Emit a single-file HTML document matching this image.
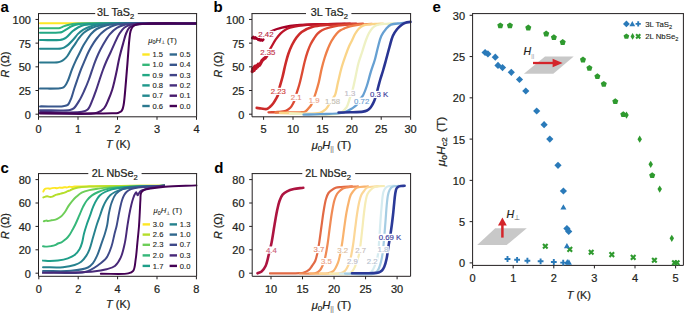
<!DOCTYPE html>
<html><head><meta charset="utf-8"><style>
html,body{margin:0;padding:0;background:#fff;overflow:hidden;}
svg{display:block;}
text{font-family:"Liberation Sans", sans-serif;}
text[fill="#231f20"]{stroke:#231f20;stroke-width:0.22px;}
text.s{stroke:#231f20;stroke-width:0.12px;}
</style></head><body>
<svg width="685" height="313" viewBox="0 0 685 313">
<rect width="685" height="313" fill="#fff"/>
<path d="M40.00 23.30 C66.67 23.30 93.68 23.28 120.00 23.30 C145.66 23.32 170.67 23.37 196.00 23.40" fill="none" stroke="#fde725" stroke-width="2.05" stroke-linecap="round" stroke-linejoin="round" />
<path d="M40.00 28.30 C45.67 28.27 53.65 28.38 57.00 28.20 C58.41 28.13 58.97 28.16 60.00 27.90 C61.17 27.61 62.33 26.88 63.60 26.40 C64.98 25.88 66.51 25.32 68.00 24.90 C69.48 24.48 70.80 24.13 72.50 23.90 C74.67 23.60 76.01 23.61 80.00 23.50 C95.68 23.08 157.33 23.43 196.00 23.40" fill="none" stroke="#35b779" stroke-width="2.05" stroke-linecap="round" stroke-linejoin="round" />
<path d="M40.00 32.80 C46.33 32.73 55.41 32.97 59.00 32.60 C60.44 32.45 60.89 32.42 62.00 32.00 C63.58 31.39 65.79 29.79 67.40 28.80 C68.73 27.98 69.73 27.13 71.00 26.50 C72.27 25.87 73.46 25.42 75.00 25.00 C76.99 24.46 79.45 24.06 82.00 23.80 C85.03 23.50 86.91 23.58 92.00 23.50 C108.41 23.25 161.33 23.43 196.00 23.40" fill="none" stroke="#22a884" stroke-width="2.05" stroke-linecap="round" stroke-linejoin="round" />
<path d="M40.00 40.10 C46.67 40.03 56.29 40.29 60.00 39.90 C61.45 39.75 62.02 39.64 63.00 39.30 C64.05 38.93 64.96 38.54 66.10 37.70 C67.94 36.35 70.37 33.08 72.50 31.30 C74.33 29.77 76.07 28.55 78.00 27.50 C79.90 26.46 81.81 25.58 84.00 25.00 C86.44 24.35 89.18 24.23 92.00 24.00 C95.14 23.74 96.97 23.71 102.00 23.60 C117.41 23.28 164.67 23.47 196.00 23.40" fill="none" stroke="#1f988b" stroke-width="2.05" stroke-linecap="round" stroke-linejoin="round" />
<path d="M40.00 48.70 C47.00 48.63 57.18 49.08 61.00 48.50 C62.47 48.28 63.00 48.06 64.00 47.60 C65.14 47.08 66.15 46.41 67.40 45.40 C69.27 43.89 71.93 41.06 73.80 39.00 C75.39 37.24 76.46 35.44 78.00 33.90 C79.53 32.38 81.05 31.01 83.00 29.80 C85.28 28.39 88.36 27.08 91.00 26.20 C93.42 25.40 95.40 25.01 98.20 24.60 C102.04 24.04 105.45 23.84 112.00 23.60 C128.15 23.00 168.00 23.47 196.00 23.40" fill="none" stroke="#23888e" stroke-width="2.05" stroke-linecap="round" stroke-linejoin="round" />
<path d="M40.00 62.50 C46.00 62.40 54.54 62.68 58.00 62.20 C59.44 62.00 60.03 61.82 61.00 61.40 C62.04 60.95 63.02 60.30 64.00 59.50 C65.15 58.56 66.33 57.40 67.40 56.00 C68.69 54.33 69.74 51.97 71.00 50.00 C72.27 48.01 73.72 46.02 75.00 44.10 C76.21 42.29 77.14 40.57 78.50 38.80 C80.03 36.81 81.76 34.53 83.80 32.80 C85.91 31.02 88.31 29.53 91.00 28.30 C93.98 26.93 97.35 25.95 101.00 25.20 C105.24 24.33 108.39 24.07 115.00 23.70 C130.84 22.82 169.00 23.50 196.00 23.40" fill="none" stroke="#2a788e" stroke-width="2.05" stroke-linecap="round" stroke-linejoin="round" />
<path d="M40.00 88.60 C46.67 88.50 56.09 88.83 60.00 88.30 C61.66 88.08 62.51 88.01 63.50 87.40 C64.52 86.77 65.26 85.63 66.00 84.50 C66.85 83.21 67.42 81.84 68.20 80.00 C69.37 77.24 70.67 72.77 72.00 69.40 C73.24 66.26 74.57 63.26 75.90 60.40 C77.14 57.74 78.42 55.34 79.70 52.80 C80.99 50.24 82.31 47.38 83.60 45.10 C84.68 43.20 85.64 41.75 86.80 40.00 C88.08 38.07 89.37 35.82 91.00 34.00 C92.66 32.15 94.38 30.38 96.70 29.00 C99.47 27.36 103.15 26.18 106.80 25.30 C110.85 24.33 113.77 24.09 120.00 23.70 C134.89 22.77 170.67 23.50 196.00 23.40" fill="none" stroke="#31688e" stroke-width="2.05" stroke-linecap="round" stroke-linejoin="round" />
<path d="M40.00 106.40 C47.67 106.33 58.22 106.86 63.00 106.20 C65.22 105.89 66.49 105.97 67.80 104.90 C69.46 103.55 70.35 100.37 71.40 97.80 C72.56 94.95 73.31 91.52 74.30 88.50 C75.25 85.60 76.16 82.99 77.20 80.00 C78.37 76.66 79.69 72.77 81.00 69.40 C82.22 66.26 83.51 63.39 84.80 60.40 C86.08 57.42 87.23 54.43 88.70 51.50 C90.22 48.49 92.17 45.12 93.80 42.60 C95.08 40.63 96.25 39.07 97.50 37.50 C98.65 36.06 99.62 34.83 101.00 33.50 C102.63 31.93 104.57 30.16 106.80 28.80 C109.30 27.27 112.19 25.85 115.40 25.00 C119.13 24.01 122.12 24.02 128.00 23.70 C141.63 22.97 173.33 23.50 196.00 23.40" fill="none" stroke="#39568c" stroke-width="2.05" stroke-linecap="round" stroke-linejoin="round" />
<path d="M40.00 110.20 C50.00 110.13 64.86 111.08 70.00 110.00 C71.89 109.60 72.47 109.40 73.70 108.40 C75.64 106.82 77.77 103.10 79.50 100.20 C81.27 97.24 82.70 94.07 84.20 90.80 C85.78 87.35 87.38 83.49 88.70 80.00 C89.91 76.80 90.83 73.77 91.90 70.70 C92.96 67.67 93.98 64.62 95.10 61.70 C96.18 58.89 97.26 56.16 98.50 53.50 C99.73 50.87 100.91 48.59 102.50 45.80 C104.49 42.31 107.06 37.44 109.70 34.30 C111.93 31.64 114.36 29.40 116.90 27.80 C119.16 26.38 121.27 25.58 124.00 24.90 C127.43 24.05 130.46 23.99 136.00 23.70 C148.35 23.05 176.00 23.50 196.00 23.40" fill="none" stroke="#414487" stroke-width="2.05" stroke-linecap="round" stroke-linejoin="round" />
<path d="M40.00 111.90 C54.00 111.87 74.53 113.26 82.00 111.80 C84.86 111.24 86.10 110.97 87.70 109.50 C89.78 107.59 91.02 103.35 92.40 100.20 C93.75 97.11 94.75 94.05 95.90 90.80 C97.12 87.34 98.31 83.53 99.50 80.00 C100.64 76.60 101.71 73.23 102.90 70.00 C104.04 66.91 105.22 63.94 106.50 61.00 C107.76 58.11 109.18 55.37 110.50 52.50 C111.85 49.57 113.06 46.65 114.50 43.60 C116.05 40.33 117.65 36.34 119.50 33.50 C121.04 31.14 122.50 29.01 124.50 27.50 C126.45 26.03 128.84 25.14 131.30 24.50 C133.97 23.81 135.83 23.90 140.00 23.70 C150.55 23.19 177.33 23.50 196.00 23.40" fill="none" stroke="#472f7d" stroke-width="2.05" stroke-linecap="round" stroke-linejoin="round" />
<path d="M40.00 112.90 C59.00 112.87 87.32 115.60 97.00 112.80 C100.69 111.73 102.11 110.48 104.00 108.40 C106.13 106.05 107.32 102.16 108.70 99.00 C110.04 95.93 111.20 92.86 112.20 89.70 C113.20 86.53 113.92 83.26 114.70 80.00 C115.49 76.70 116.17 73.49 116.90 70.00 C117.70 66.19 118.33 62.17 119.30 58.00 C120.37 53.40 121.85 48.02 123.10 43.60 C124.18 39.79 125.03 35.88 126.30 33.00 C127.25 30.83 128.11 28.90 129.50 27.60 C130.74 26.43 132.23 25.89 134.00 25.30 C136.24 24.55 138.13 24.25 142.00 23.90 C151.98 22.99 178.00 23.57 196.00 23.40" fill="none" stroke="#481a6c" stroke-width="2.05" stroke-linecap="round" stroke-linejoin="round" />
<path d="M40.00 113.40 C64.00 113.37 101.25 113.67 112.00 113.30 C115.11 113.19 116.37 113.29 118.00 112.90 C119.20 112.61 120.23 112.27 121.00 111.60 C121.75 110.95 122.18 110.00 122.60 109.00 C123.09 107.84 123.31 106.53 123.60 105.00 C123.98 103.00 124.22 100.54 124.50 98.00 C124.83 94.97 125.10 91.49 125.40 88.00 C125.73 84.18 126.07 80.00 126.40 76.00 C126.73 72.00 127.08 68.00 127.40 64.00 C127.72 60.00 127.98 56.00 128.30 52.00 C128.62 48.00 128.88 43.71 129.30 40.00 C129.67 36.78 129.84 33.42 130.60 31.00 C131.16 29.22 131.75 27.68 132.80 26.60 C133.77 25.60 134.96 25.08 136.50 24.60 C138.70 23.92 140.97 23.92 145.00 23.70 C154.85 23.15 179.00 23.50 196.00 23.40" fill="none" stroke="#440154" stroke-width="2.05" stroke-linecap="round" stroke-linejoin="round" />
<path d="M38.50 13.60 L38.50 116.80 L196.60 116.80 L196.60 13.60" fill="none" stroke="#231f20" stroke-width="1"/>
<line x1="38.00" y1="13.60" x2="95.20" y2="13.60" stroke="#231f20" stroke-width="1.00"/>
<line x1="137.80" y1="13.60" x2="197.10" y2="13.60" stroke="#231f20" stroke-width="1.00"/>
<text x="97.00" y="16.30" font-size="10.80" text-anchor="start" fill="#231f20">3L TaS<tspan font-size="7.56" dy="3.0">2</tspan></text>
<line x1="35.50" y1="114.20" x2="38.50" y2="114.20" stroke="#231f20" stroke-width="1.00"/>
<text transform="translate(30.90 118.60) scale(1.100 1)" font-size="10.00" text-anchor="end" fill="#231f20">0</text>
<line x1="35.50" y1="90.51" x2="38.50" y2="90.51" stroke="#231f20" stroke-width="1.00"/>
<text transform="translate(30.90 94.91) scale(1.100 1)" font-size="10.00" text-anchor="end" fill="#231f20">25</text>
<line x1="35.50" y1="66.83" x2="38.50" y2="66.83" stroke="#231f20" stroke-width="1.00"/>
<text transform="translate(30.90 71.23) scale(1.100 1)" font-size="10.00" text-anchor="end" fill="#231f20">50</text>
<line x1="35.50" y1="43.14" x2="38.50" y2="43.14" stroke="#231f20" stroke-width="1.00"/>
<text transform="translate(30.90 47.54) scale(1.100 1)" font-size="10.00" text-anchor="end" fill="#231f20">75</text>
<line x1="35.50" y1="19.45" x2="38.50" y2="19.45" stroke="#231f20" stroke-width="1.00"/>
<text transform="translate(30.90 23.85) scale(1.100 1)" font-size="10.00" text-anchor="end" fill="#231f20">100</text>
<line x1="38.50" y1="116.80" x2="38.50" y2="119.80" stroke="#231f20" stroke-width="1.00"/>
<text transform="translate(38.50 133.20) scale(1.100 1)" font-size="10.00" text-anchor="middle" fill="#231f20">0</text>
<line x1="78.00" y1="116.80" x2="78.00" y2="119.80" stroke="#231f20" stroke-width="1.00"/>
<text transform="translate(78.00 133.20) scale(1.100 1)" font-size="10.00" text-anchor="middle" fill="#231f20">1</text>
<line x1="117.50" y1="116.80" x2="117.50" y2="119.80" stroke="#231f20" stroke-width="1.00"/>
<text transform="translate(117.50 133.20) scale(1.100 1)" font-size="10.00" text-anchor="middle" fill="#231f20">2</text>
<line x1="157.00" y1="116.80" x2="157.00" y2="119.80" stroke="#231f20" stroke-width="1.00"/>
<text transform="translate(157.00 133.20) scale(1.100 1)" font-size="10.00" text-anchor="middle" fill="#231f20">3</text>
<line x1="196.50" y1="116.80" x2="196.50" y2="119.80" stroke="#231f20" stroke-width="1.00"/>
<text transform="translate(196.50 133.20) scale(1.100 1)" font-size="10.00" text-anchor="middle" fill="#231f20">4</text>
<text x="0.50" y="11.80" font-size="15.00" text-anchor="start" fill="#000" font-weight="bold" >a</text>
<text transform="translate(118.20 148.20) scale(1.04 1)" font-size="10.50" text-anchor="middle" fill="#231f20"><tspan font-style="italic">T</tspan> (K)</text>
<text x="0" y="0" font-size="10.50" text-anchor="middle" fill="#231f20" transform="translate(8.70 64.70) rotate(-90) scale(1.020 1)"><tspan font-style="italic">R</tspan> (Ω)</text>
<text class="s" x="148.30" y="42.60" font-size="7.60" fill="#231f20"><tspan font-style="italic">μ</tspan><tspan font-size="5.32" dy="1.8">0</tspan><tspan font-style="italic" dy="-1.8">H</tspan><tspan font-size="5.32" dy="1.8">⊥</tspan><tspan dy="-1.8"> (T)</tspan></text>
<line x1="142.30" y1="54.50" x2="149.70" y2="54.50" stroke="#fde725" stroke-width="2.40"/>
<text x="152.50" y="57.10" font-size="7.60" text-anchor="start" fill="#231f20"  class="s">1.5</text>
<line x1="142.30" y1="64.80" x2="149.70" y2="64.80" stroke="#35b779" stroke-width="2.40"/>
<text x="152.50" y="67.40" font-size="7.60" text-anchor="start" fill="#231f20"  class="s">1.0</text>
<line x1="142.30" y1="75.10" x2="149.70" y2="75.10" stroke="#22a884" stroke-width="2.40"/>
<text x="152.50" y="77.70" font-size="7.60" text-anchor="start" fill="#231f20"  class="s">0.9</text>
<line x1="142.30" y1="85.40" x2="149.70" y2="85.40" stroke="#1f988b" stroke-width="2.40"/>
<text x="152.50" y="88.00" font-size="7.60" text-anchor="start" fill="#231f20"  class="s">0.8</text>
<line x1="142.30" y1="95.70" x2="149.70" y2="95.70" stroke="#23888e" stroke-width="2.40"/>
<text x="152.50" y="98.30" font-size="7.60" text-anchor="start" fill="#231f20"  class="s">0.7</text>
<line x1="142.30" y1="106.00" x2="149.70" y2="106.00" stroke="#2a788e" stroke-width="2.40"/>
<text x="152.50" y="108.60" font-size="7.60" text-anchor="start" fill="#231f20"  class="s">0.6</text>
<line x1="169.60" y1="54.50" x2="177.00" y2="54.50" stroke="#31688e" stroke-width="2.40"/>
<text x="179.80" y="57.10" font-size="7.60" text-anchor="start" fill="#231f20"  class="s">0.5</text>
<line x1="169.60" y1="64.80" x2="177.00" y2="64.80" stroke="#39568c" stroke-width="2.40"/>
<text x="179.80" y="67.40" font-size="7.60" text-anchor="start" fill="#231f20"  class="s">0.4</text>
<line x1="169.60" y1="75.10" x2="177.00" y2="75.10" stroke="#414487" stroke-width="2.40"/>
<text x="179.80" y="77.70" font-size="7.60" text-anchor="start" fill="#231f20"  class="s">0.3</text>
<line x1="169.60" y1="85.40" x2="177.00" y2="85.40" stroke="#472f7d" stroke-width="2.40"/>
<text x="179.80" y="88.00" font-size="7.60" text-anchor="start" fill="#231f20"  class="s">0.2</text>
<line x1="169.60" y1="95.70" x2="177.00" y2="95.70" stroke="#481a6c" stroke-width="2.40"/>
<text x="179.80" y="98.30" font-size="7.60" text-anchor="start" fill="#231f20"  class="s">0.1</text>
<line x1="169.60" y1="106.00" x2="177.00" y2="106.00" stroke="#440154" stroke-width="2.40"/>
<text x="179.80" y="108.60" font-size="7.60" text-anchor="start" fill="#231f20"  class="s">0.0</text>
<path d="M266.00 35.00 C267.33 34.00 268.73 32.79 270.00 32.00 C271.04 31.36 271.91 30.97 273.00 30.50 C274.22 29.97 275.58 29.46 277.00 29.00 C278.56 28.49 280.13 28.05 282.00 27.60 C284.35 27.04 287.17 26.42 290.00 26.00 C293.14 25.53 296.09 25.27 300.00 25.00 C305.52 24.61 312.96 24.40 320.00 24.20 C327.87 23.98 336.67 23.93 345.00 23.80" fill="none" stroke="#a50026" stroke-width="2.30" stroke-linecap="round" stroke-linejoin="round" />
<path d="M266.60 55.00 C268.10 52.47 269.60 49.94 271.10 47.40 C272.60 44.84 273.96 42.09 275.60 39.70 C277.17 37.41 278.88 35.06 280.70 33.30 C282.31 31.75 284.13 30.48 285.80 29.50 C287.22 28.66 288.26 28.17 290.00 27.60 C292.59 26.75 296.07 26.04 300.00 25.50 C305.50 24.75 312.66 24.50 320.00 24.20 C328.99 23.83 340.00 23.87 350.00 23.70" fill="none" stroke="#bd1428" stroke-width="2.30" stroke-linecap="round" stroke-linejoin="round" />
<path d="M256.70 107.90 C258.20 108.10 259.62 108.32 261.20 108.50 C262.96 108.70 265.24 109.40 266.80 109.00 C268.11 108.67 269.05 107.72 270.10 106.80 C271.30 105.75 272.47 104.29 273.50 102.90 C274.54 101.49 275.51 99.81 276.30 98.40 C276.97 97.20 277.53 96.37 278.00 95.00 C278.65 93.12 278.78 90.58 279.40 88.00 C280.19 84.73 281.52 80.83 282.50 77.00 C283.56 72.86 284.47 68.04 285.50 64.00 C286.41 60.44 287.19 57.21 288.30 54.00 C289.37 50.89 290.59 47.81 292.00 45.00 C293.34 42.33 294.81 39.73 296.50 37.50 C298.07 35.43 299.45 33.63 301.70 32.00 C304.56 29.93 308.86 27.97 312.80 26.80 C316.88 25.59 321.03 25.44 325.80 25.00 C331.57 24.47 339.48 24.30 345.00 24.10 C349.17 23.95 352.33 23.90 356.00 23.80" fill="none" stroke="#cc2b2a" stroke-width="2.60" stroke-linecap="round" stroke-linejoin="round" />
<path d="M268.50 112.30 C271.67 112.20 275.00 112.28 278.00 112.00 C280.74 111.75 283.63 111.64 285.80 110.80 C287.60 110.10 289.07 109.04 290.30 107.80 C291.49 106.59 292.31 104.99 293.10 103.50 C293.87 102.05 294.46 100.56 295.00 99.00 C295.56 97.39 295.84 95.91 296.40 94.00 C297.16 91.43 298.34 88.07 299.20 85.00 C300.08 81.84 300.77 78.79 301.60 75.30 C302.56 71.22 303.54 66.10 304.60 62.00 C305.52 58.41 306.44 55.07 307.50 52.00 C308.43 49.30 309.37 46.82 310.50 44.50 C311.55 42.35 312.77 40.37 314.00 38.50 C315.15 36.75 316.23 35.00 317.60 33.60 C318.91 32.26 320.28 31.15 322.00 30.20 C323.99 29.09 326.49 28.34 329.00 27.60 C331.79 26.78 334.77 26.13 338.00 25.60 C341.70 24.99 345.91 24.62 350.00 24.30 C354.24 23.97 358.67 23.90 363.00 23.70" fill="none" stroke="#dc4a33" stroke-width="2.30" stroke-linecap="round" stroke-linejoin="round" />
<path d="M275.50 112.50 C283.67 112.43 294.82 112.71 300.00 112.30 C302.42 112.11 303.81 112.24 305.30 111.50 C306.72 110.80 307.76 109.29 308.80 108.10 C309.78 106.98 310.62 106.01 311.40 104.60 C312.40 102.80 313.22 100.16 314.00 98.00 C314.74 95.96 315.30 94.25 316.00 92.00 C316.88 89.14 317.92 85.76 318.80 82.20 C319.84 78.03 320.66 72.75 321.70 68.50 C322.61 64.75 323.53 61.39 324.60 58.00 C325.63 54.73 326.79 51.45 328.00 48.50 C329.10 45.83 330.08 43.44 331.50 41.00 C332.99 38.43 335.08 35.40 336.80 33.50 C338.06 32.11 339.19 31.16 340.50 30.30 C341.73 29.49 342.97 29.02 344.40 28.40 C346.08 27.68 347.94 26.87 350.00 26.30 C352.40 25.63 354.95 25.19 358.00 24.80 C362.01 24.28 367.33 24.13 372.00 23.80" fill="none" stroke="#ef7f48" stroke-width="2.30" stroke-linecap="round" stroke-linejoin="round" />
<path d="M280.00 113.00 C293.33 112.93 312.92 114.78 320.00 112.80 C322.84 112.01 324.04 110.82 325.50 109.50 C326.79 108.34 327.55 106.98 328.50 105.50 C329.56 103.85 330.41 101.69 331.50 100.00 C332.52 98.41 333.86 97.59 334.80 95.60 C336.28 92.45 336.88 86.82 338.00 82.20 C339.20 77.24 340.44 71.53 341.80 66.80 C342.99 62.66 344.29 58.93 345.60 55.30 C346.80 51.97 348.08 48.55 349.30 45.80 C350.27 43.60 351.25 41.96 352.20 40.00 C353.16 38.02 353.88 35.91 355.00 34.00 C356.14 32.07 357.54 29.96 359.00 28.50 C360.24 27.26 361.19 26.32 363.00 25.60 C365.83 24.47 371.40 24.33 375.00 24.00 C377.93 23.73 380.33 23.73 383.00 23.60" fill="none" stroke="#fad488" stroke-width="2.30" stroke-linecap="round" stroke-linejoin="round" />
<path d="M290.00 113.50 C306.67 113.40 331.43 116.54 340.00 113.20 C343.59 111.80 344.90 109.66 346.50 107.30 C348.11 104.93 348.60 101.85 349.60 99.00 C350.64 96.02 351.67 93.18 352.60 89.80 C353.70 85.78 354.62 80.87 355.60 76.40 C356.58 71.94 357.34 67.27 358.50 63.00 C359.59 58.99 361.05 55.34 362.30 51.50 C363.55 47.67 364.75 43.33 366.00 40.00 C366.99 37.35 367.84 35.08 369.00 33.00 C370.04 31.13 371.16 29.32 372.50 28.00 C373.69 26.83 374.79 25.97 376.50 25.30 C378.91 24.35 382.87 24.12 386.00 23.80 C389.03 23.49 392.00 23.53 395.00 23.40" fill="none" stroke="#eef1c4" stroke-width="2.30" stroke-linecap="round" stroke-linejoin="round" />
<path d="M303.50 114.60 C309.00 114.47 314.00 114.49 320.00 114.20 C327.21 113.86 337.92 114.11 343.80 112.50 C347.58 111.46 350.23 109.61 352.60 108.10 C354.39 106.96 355.79 106.05 357.00 104.60 C358.29 103.06 358.92 100.59 360.00 99.00 C360.91 97.67 361.98 97.12 362.90 95.60 C364.30 93.29 365.60 89.50 366.80 86.00 C368.20 81.94 369.24 77.05 370.60 72.60 C371.97 68.12 373.74 63.59 375.00 59.20 C376.19 55.06 376.92 50.95 378.00 47.00 C379.03 43.23 379.81 39.16 381.30 36.00 C382.58 33.29 384.27 30.97 386.00 29.00 C387.54 27.25 388.92 25.56 391.00 24.60 C393.43 23.48 397.43 23.59 400.00 23.30 C401.91 23.09 403.33 23.03 405.00 22.90" fill="none" stroke="#66a0d2" stroke-width="2.30" stroke-linecap="round" stroke-linejoin="round" />
<path d="M338.60 112.50 C342.40 112.43 346.07 112.44 350.00 112.30 C354.22 112.15 360.04 112.11 363.10 111.60 C364.80 111.32 365.83 111.09 367.00 110.50 C368.16 109.92 369.20 109.07 370.10 108.10 C371.05 107.08 371.78 105.77 372.50 104.50 C373.25 103.18 373.88 101.87 374.50 100.30 C375.24 98.43 375.87 96.24 376.50 94.00 C377.21 91.50 377.83 88.57 378.50 86.00 C379.13 83.59 379.68 81.47 380.40 79.00 C381.22 76.18 382.29 73.09 383.20 70.00 C384.16 66.76 385.02 63.55 386.00 60.00 C387.11 55.95 388.32 51.14 389.50 47.00 C390.59 43.17 391.38 39.15 392.80 36.00 C393.98 33.37 395.44 31.11 397.00 29.20 C398.37 27.52 399.97 26.11 401.50 25.00 C402.81 24.05 404.05 23.31 405.50 22.80 C407.03 22.26 408.83 22.20 410.50 21.90" fill="none" stroke="#293593" stroke-width="2.60" stroke-linecap="round" stroke-linejoin="round" />
<path d="M252.30 38.00 L253.30 37.00 L254.30 38.40 L255.30 37.40 L256.30 38.60 L257.30 38.00 L258.30 39.80 L259.30 39.00 L260.30 40.40 L261.30 39.60 L262.30 40.60 L263.30 39.60" fill="none" stroke="#a50026" stroke-width="2.60" stroke-linecap="round" stroke-linejoin="round" />
<path d="M252.30 71.50 L253.20 68.80 L254.10 70.20 L255.00 67.00 L255.90 68.30 L256.80 66.00 L257.70 66.60 L258.60 64.50 L259.50 65.20 L260.40 63.60 L261.30 62.00 L262.20 60.30 L263.10 59.60 L264.00 58.60 L265.00 58.20 L266.60 56.00" fill="none" stroke="#bd1428" stroke-width="3.40" stroke-linecap="round" stroke-linejoin="round" />
<path d="M252.30 68.50 L253.50 67.00 L255.00 65.50 L256.50 65.80 L258.00 63.50" fill="none" stroke="#bd1428" stroke-width="2.00" stroke-linecap="round" stroke-linejoin="round" />
<rect x="257.50" y="30.76" width="16.38" height="7.18" fill="#fff"/>
<text x="258.30" y="37.00" font-size="7.80" text-anchor="start" fill="#b72a44" stroke="#b72a44" stroke-width="0.15">2.42</text>
<rect x="259.40" y="48.86" width="16.38" height="7.18" fill="#fff"/>
<text x="260.20" y="55.10" font-size="7.80" text-anchor="start" fill="#c3354a" stroke="#c3354a" stroke-width="0.15">2.35</text>
<rect x="269.90" y="87.76" width="16.38" height="7.18" fill="#fff"/>
<text x="270.70" y="94.00" font-size="7.80" text-anchor="start" fill="#d24240" stroke="#d24240" stroke-width="0.15">2.23</text>
<rect x="290.00" y="93.86" width="12.04" height="7.18" fill="#fff"/>
<text x="290.80" y="100.10" font-size="7.80" text-anchor="start" fill="#e58a78" stroke="#e58a78" stroke-width="0.15">2.1</text>
<rect x="307.90" y="96.66" width="12.04" height="7.18" fill="#fff"/>
<text x="308.70" y="102.90" font-size="7.80" text-anchor="start" fill="#eea58a" stroke="#eea58a" stroke-width="0.15">1.9</text>
<rect x="324.20" y="97.36" width="16.38" height="7.18" fill="#fff"/>
<text x="325.00" y="103.60" font-size="7.80" text-anchor="start" fill="#c6bfb4" stroke="#c6bfb4" stroke-width="0.15">1.58</text>
<rect x="343.60" y="89.76" width="12.04" height="7.18" fill="#fff"/>
<text x="344.40" y="96.00" font-size="7.80" text-anchor="start" fill="#c2bcc6" stroke="#c2bcc6" stroke-width="0.15">1.3</text>
<rect x="353.30" y="97.56" width="16.38" height="7.18" fill="#fff"/>
<text x="354.10" y="103.80" font-size="7.80" text-anchor="start" fill="#6e9fd2" stroke="#6e9fd2" stroke-width="0.15">0.72</text>
<rect x="369.20" y="90.86" width="19.41" height="7.18" fill="#fff"/>
<text x="370.00" y="97.10" font-size="7.80" text-anchor="start" fill="#3c3d9c" stroke="#3c3d9c" stroke-width="0.15">0.3 K</text>
<path d="M252.00 13.60 L252.00 116.80 L410.60 116.80 L410.60 13.60" fill="none" stroke="#231f20" stroke-width="1"/>
<line x1="251.50" y1="13.60" x2="306.00" y2="13.60" stroke="#231f20" stroke-width="1.00"/>
<line x1="351.40" y1="13.60" x2="411.10" y2="13.60" stroke="#231f20" stroke-width="1.00"/>
<text x="310.70" y="16.30" font-size="10.80" text-anchor="start" fill="#231f20">3L TaS<tspan font-size="7.56" dy="3.0">2</tspan></text>
<line x1="249.00" y1="114.20" x2="252.00" y2="114.20" stroke="#231f20" stroke-width="1.00"/>
<text transform="translate(244.40 118.60) scale(1.100 1)" font-size="10.00" text-anchor="end" fill="#231f20">0</text>
<line x1="249.00" y1="90.51" x2="252.00" y2="90.51" stroke="#231f20" stroke-width="1.00"/>
<text transform="translate(244.40 94.91) scale(1.100 1)" font-size="10.00" text-anchor="end" fill="#231f20">25</text>
<line x1="249.00" y1="66.83" x2="252.00" y2="66.83" stroke="#231f20" stroke-width="1.00"/>
<text transform="translate(244.40 71.23) scale(1.100 1)" font-size="10.00" text-anchor="end" fill="#231f20">50</text>
<line x1="249.00" y1="43.14" x2="252.00" y2="43.14" stroke="#231f20" stroke-width="1.00"/>
<text transform="translate(244.40 47.54) scale(1.100 1)" font-size="10.00" text-anchor="end" fill="#231f20">75</text>
<line x1="249.00" y1="19.45" x2="252.00" y2="19.45" stroke="#231f20" stroke-width="1.00"/>
<text transform="translate(244.40 23.85) scale(1.100 1)" font-size="10.00" text-anchor="end" fill="#231f20">100</text>
<line x1="263.60" y1="116.80" x2="263.60" y2="119.80" stroke="#231f20" stroke-width="1.00"/>
<text transform="translate(263.60 133.20) scale(1.100 1)" font-size="10.00" text-anchor="middle" fill="#231f20">5</text>
<line x1="293.00" y1="116.80" x2="293.00" y2="119.80" stroke="#231f20" stroke-width="1.00"/>
<text transform="translate(293.00 133.20) scale(1.100 1)" font-size="10.00" text-anchor="middle" fill="#231f20">10</text>
<line x1="322.40" y1="116.80" x2="322.40" y2="119.80" stroke="#231f20" stroke-width="1.00"/>
<text transform="translate(322.40 133.20) scale(1.100 1)" font-size="10.00" text-anchor="middle" fill="#231f20">15</text>
<line x1="351.80" y1="116.80" x2="351.80" y2="119.80" stroke="#231f20" stroke-width="1.00"/>
<text transform="translate(351.80 133.20) scale(1.100 1)" font-size="10.00" text-anchor="middle" fill="#231f20">20</text>
<line x1="381.20" y1="116.80" x2="381.20" y2="119.80" stroke="#231f20" stroke-width="1.00"/>
<text transform="translate(381.20 133.20) scale(1.100 1)" font-size="10.00" text-anchor="middle" fill="#231f20">25</text>
<line x1="410.60" y1="116.80" x2="410.60" y2="119.80" stroke="#231f20" stroke-width="1.00"/>
<text transform="translate(410.60 133.20) scale(1.100 1)" font-size="10.00" text-anchor="middle" fill="#231f20">30</text>
<text x="213.50" y="11.80" font-size="15.00" text-anchor="start" fill="#000" font-weight="bold" >b</text>
<text transform="translate(331.40 149.00) scale(1.06 1)" font-size="10.50" text-anchor="middle" fill="#231f20"><tspan font-style="italic">μ</tspan><tspan font-size="7.6" dy="2">0</tspan><tspan font-style="italic" dy="-2">H</tspan><tspan font-size="6.6" dy="2" fill="#555" stroke="none">||</tspan><tspan dy="-2"> (T)</tspan></text>
<text x="0" y="0" font-size="10.50" text-anchor="middle" fill="#231f20" transform="translate(222.40 64.70) rotate(-90) scale(1.020 1)"><tspan font-style="italic">R</tspan> (Ω)</text>
<path d="M43.30 191.60 C43.63 190.93 43.89 190.12 44.30 189.60 C44.64 189.16 44.99 188.81 45.50 188.60 C46.15 188.33 47.21 188.37 48.00 188.40 C48.71 188.42 49.34 188.75 50.00 188.70 C50.67 188.65 51.28 188.23 52.00 188.10 C52.80 187.95 53.75 187.88 54.60 187.90 C55.42 187.92 56.20 188.24 57.00 188.20 C57.83 188.15 58.66 187.67 59.50 187.60 C60.33 187.54 61.17 187.86 62.00 187.80 C62.84 187.73 63.66 187.27 64.50 187.20 C65.33 187.14 66.20 187.47 67.00 187.40 C67.76 187.33 68.42 186.88 69.20 186.80 C70.07 186.71 71.05 187.04 72.00 187.00 C72.99 186.95 73.86 186.59 75.00 186.50 C76.47 186.38 78.12 186.52 80.10 186.50 C82.86 186.47 86.69 186.35 90.00 186.30 C93.32 186.25 95.22 186.25 100.00 186.20 C112.09 186.08 142.67 185.80 164.00 185.60" fill="none" stroke="#fde725" stroke-width="1.95" stroke-linecap="round" stroke-linejoin="round" />
<path d="M43.30 197.40 C44.03 197.13 44.80 196.79 45.50 196.60 C46.12 196.44 46.64 196.28 47.30 196.30 C48.11 196.32 49.12 196.86 50.00 196.90 C50.82 196.94 51.62 196.85 52.40 196.60 C53.23 196.34 54.02 195.64 54.80 195.30 C55.48 195.00 56.08 194.81 56.80 194.60 C57.63 194.36 58.63 194.24 59.50 194.00 C60.33 193.77 61.08 193.43 61.90 193.20 C62.74 192.96 63.60 192.90 64.50 192.60 C65.53 192.26 66.69 191.60 67.70 191.20 C68.58 190.85 69.37 190.66 70.20 190.30 C71.07 189.93 71.87 189.37 72.80 189.00 C73.80 188.60 74.86 188.29 76.00 188.00 C77.27 187.68 78.43 187.42 80.10 187.20 C82.68 186.86 86.69 186.67 90.00 186.50 C93.32 186.33 95.22 186.29 100.00 186.20 C112.09 185.96 142.67 185.80 164.00 185.60" fill="none" stroke="#b5de2b" stroke-width="1.95" stroke-linecap="round" stroke-linejoin="round" />
<path d="M43.80 221.20 C44.53 221.00 45.28 220.62 46.00 220.60 C46.68 220.58 47.24 221.00 48.00 221.00 C49.00 221.00 50.29 220.53 51.50 220.30 C52.79 220.06 54.22 220.01 55.50 219.60 C56.79 219.18 58.09 218.50 59.20 217.80 C60.24 217.15 61.09 216.49 62.00 215.60 C63.07 214.55 64.07 213.27 65.10 211.80 C66.37 209.98 67.56 207.38 68.90 205.40 C70.14 203.56 71.46 201.84 72.80 200.30 C74.03 198.90 75.19 197.72 76.60 196.50 C78.13 195.18 79.73 193.73 81.70 192.70 C83.92 191.53 86.71 190.78 89.40 190.10 C92.23 189.39 95.12 189.03 98.30 188.60 C101.93 188.11 104.67 187.76 110.00 187.40 C121.43 186.62 146.00 186.20 164.00 185.60" fill="none" stroke="#6ece58" stroke-width="1.95" stroke-linecap="round" stroke-linejoin="round" />
<path d="M43.00 246.30 C44.33 246.40 45.64 246.63 47.00 246.60 C48.41 246.57 49.93 246.35 51.30 246.10 C52.59 245.87 53.86 245.65 55.00 245.20 C56.08 244.77 56.94 243.98 58.00 243.50 C59.10 243.00 60.41 242.86 61.50 242.30 C62.61 241.73 63.61 240.89 64.60 240.10 C65.61 239.30 66.63 238.44 67.50 237.50 C68.36 236.57 69.04 235.64 69.80 234.50 C70.71 233.13 71.61 231.42 72.50 229.80 C73.44 228.09 74.33 226.51 75.30 224.50 C76.53 221.95 77.92 218.64 79.20 215.70 C80.48 212.77 81.64 209.56 83.00 206.90 C84.20 204.56 85.29 202.42 86.80 200.50 C88.29 198.60 90.07 196.82 92.00 195.40 C93.91 193.99 96.13 192.97 98.30 192.00 C100.46 191.04 102.51 190.26 105.00 189.60 C107.97 188.81 111.32 188.25 115.00 187.80 C119.48 187.25 123.99 187.11 130.00 186.80 C139.04 186.34 152.67 186.00 164.00 185.60" fill="none" stroke="#35b779" stroke-width="1.95" stroke-linecap="round" stroke-linejoin="round" />
<path d="M43.00 260.60 C45.33 260.70 47.59 260.91 50.00 260.90 C52.58 260.89 55.21 260.86 58.00 260.50 C61.14 260.09 64.98 259.41 67.90 258.40 C70.41 257.53 72.67 256.61 74.60 255.10 C76.54 253.58 78.24 251.42 79.50 249.30 C80.72 247.24 81.39 245.00 82.10 242.60 C82.89 239.94 83.17 236.88 83.90 234.00 C84.66 231.02 85.60 228.01 86.60 225.00 C87.63 221.91 88.89 218.78 90.00 215.70 C91.09 212.68 91.98 209.53 93.20 206.70 C94.36 204.02 95.80 201.15 97.10 199.10 C98.07 197.56 98.79 196.43 100.00 195.30 C101.36 194.03 103.13 192.95 105.00 192.00 C107.08 190.94 109.27 190.12 112.00 189.40 C115.63 188.44 119.48 187.86 125.00 187.30 C134.50 186.33 151.00 186.17 164.00 185.60" fill="none" stroke="#1f9e89" stroke-width="1.95" stroke-linecap="round" stroke-linejoin="round" />
<path d="M43.00 267.20 C49.67 267.20 57.26 267.74 63.00 267.20 C67.41 266.79 71.34 266.10 74.60 265.00 C77.18 264.13 79.28 263.20 81.20 261.70 C83.16 260.18 84.81 257.99 86.20 255.90 C87.57 253.85 88.52 251.78 89.50 249.30 C90.67 246.36 91.60 242.37 92.50 239.30 C93.27 236.68 93.87 234.49 94.60 232.00 C95.37 229.39 96.12 226.70 97.00 224.00 C97.91 221.20 99.00 218.33 100.00 215.50 C101.00 212.67 101.90 209.61 103.00 207.00 C103.99 204.66 104.97 202.50 106.20 200.50 C107.38 198.58 108.67 196.64 110.20 195.20 C111.63 193.85 113.19 192.92 115.00 192.00 C117.06 190.95 119.27 190.12 122.00 189.40 C125.63 188.44 129.79 187.87 135.00 187.30 C142.74 186.45 154.33 186.17 164.00 185.60" fill="none" stroke="#26828e" stroke-width="1.95" stroke-linecap="round" stroke-linejoin="round" />
<path d="M43.00 270.90 C52.33 270.87 62.87 271.60 71.00 270.80 C77.37 270.17 84.10 269.31 87.90 267.50 C90.21 266.40 91.36 265.13 92.80 263.40 C94.47 261.39 95.67 258.82 97.00 255.90 C98.71 252.16 100.40 246.56 101.80 242.60 C102.93 239.43 103.90 236.92 104.80 234.00 C105.71 231.05 106.55 228.17 107.20 225.00 C107.91 221.54 108.09 217.65 108.80 214.00 C109.52 210.32 110.26 206.42 111.50 203.00 C112.67 199.78 113.93 196.39 115.90 194.00 C117.69 191.83 119.78 190.16 122.50 189.00 C125.87 187.56 129.95 187.52 135.00 187.00 C142.65 186.21 154.33 186.07 164.00 185.60" fill="none" stroke="#31688e" stroke-width="1.95" stroke-linecap="round" stroke-linejoin="round" />
<path d="M43.00 272.30 C57.00 272.20 75.12 274.48 85.00 272.00 C90.91 270.52 94.52 267.62 98.30 265.00 C101.55 262.75 104.42 260.63 106.60 257.60 C108.93 254.37 110.28 249.96 111.60 246.00 C112.91 242.09 113.59 237.59 114.50 234.00 C115.24 231.06 115.96 228.83 116.60 226.00 C117.31 222.86 117.87 219.24 118.50 216.00 C119.10 212.92 119.66 209.80 120.30 207.00 C120.87 204.51 121.39 202.11 122.10 200.00 C122.72 198.17 123.33 196.47 124.20 195.00 C124.99 193.67 125.88 192.46 127.00 191.50 C128.14 190.52 129.43 189.82 131.00 189.20 C132.96 188.43 134.90 188.07 138.00 187.60 C143.90 186.70 155.33 186.27 164.00 185.60" fill="none" stroke="#3e4989" stroke-width="1.95" stroke-linecap="round" stroke-linejoin="round" />
<path d="M43.00 272.90 C59.77 272.43 81.94 272.63 93.30 271.50 C99.18 270.91 102.74 270.29 106.60 269.20 C109.74 268.31 112.59 267.73 114.90 265.90 C117.36 263.96 119.13 260.93 120.70 257.60 C122.65 253.47 123.79 247.76 124.90 242.60 C126.05 237.24 126.59 231.08 127.40 226.00 C128.09 221.67 128.70 217.71 129.40 214.00 C130.01 210.78 130.63 207.75 131.30 205.00 C131.87 202.65 132.45 200.43 133.10 198.50 C133.64 196.90 134.16 195.31 134.80 194.20 C135.26 193.40 135.86 192.24 136.30 192.30 C136.82 192.37 137.13 195.36 137.60 195.40 C138.00 195.43 138.39 194.01 138.90 193.30 C139.49 192.48 140.13 191.41 141.00 190.80 C141.89 190.17 142.97 190.00 144.20 189.60 C145.84 189.07 147.63 188.53 150.00 188.00 C153.64 187.19 159.33 186.40 164.00 185.60" fill="none" stroke="#482878" stroke-width="1.95" stroke-linecap="round" stroke-linejoin="round" />
<path d="M100.80 273.70 C109.93 273.60 122.82 274.70 128.20 273.40 C130.63 272.81 131.98 272.48 133.20 270.90 C134.99 268.59 135.03 263.46 135.70 259.20 C136.49 254.17 136.85 248.13 137.40 242.60 C137.95 237.07 138.59 231.30 139.00 226.00 C139.37 221.14 139.56 216.49 139.80 212.00 C140.02 207.85 140.16 203.43 140.40 200.00 C140.58 197.41 140.29 194.89 141.00 193.20 C141.52 191.96 142.44 191.07 143.40 190.40 C144.32 189.76 145.50 189.50 146.60 189.20 C147.70 188.90 148.46 188.83 150.00 188.60 C153.22 188.11 159.07 187.20 165.00 186.70 C173.54 185.98 185.93 185.83 196.40 185.40" fill="none" stroke="#440154" stroke-width="1.95" stroke-linecap="round" stroke-linejoin="round" />
<path d="M38.50 173.60 L38.50 276.30 L196.60 276.30 L196.60 173.60" fill="none" stroke="#231f20" stroke-width="1"/>
<line x1="38.00" y1="173.60" x2="88.30" y2="173.60" stroke="#231f20" stroke-width="1.00"/>
<line x1="141.60" y1="173.60" x2="197.10" y2="173.60" stroke="#231f20" stroke-width="1.00"/>
<text x="91.80" y="176.80" font-size="10.80" text-anchor="start" fill="#231f20">2L NbSe<tspan font-size="7.56" dy="3.0">2</tspan></text>
<line x1="35.50" y1="273.20" x2="38.50" y2="273.20" stroke="#231f20" stroke-width="1.00"/>
<text transform="translate(30.90 277.60) scale(1.100 1)" font-size="10.00" text-anchor="end" fill="#231f20">0</text>
<line x1="35.50" y1="249.80" x2="38.50" y2="249.80" stroke="#231f20" stroke-width="1.00"/>
<text transform="translate(30.90 254.20) scale(1.100 1)" font-size="10.00" text-anchor="end" fill="#231f20">20</text>
<line x1="35.50" y1="226.40" x2="38.50" y2="226.40" stroke="#231f20" stroke-width="1.00"/>
<text transform="translate(30.90 230.80) scale(1.100 1)" font-size="10.00" text-anchor="end" fill="#231f20">40</text>
<line x1="35.50" y1="203.00" x2="38.50" y2="203.00" stroke="#231f20" stroke-width="1.00"/>
<text transform="translate(30.90 207.40) scale(1.100 1)" font-size="10.00" text-anchor="end" fill="#231f20">60</text>
<line x1="35.50" y1="179.60" x2="38.50" y2="179.60" stroke="#231f20" stroke-width="1.00"/>
<text transform="translate(30.90 184.00) scale(1.100 1)" font-size="10.00" text-anchor="end" fill="#231f20">80</text>
<line x1="38.80" y1="276.30" x2="38.80" y2="279.30" stroke="#231f20" stroke-width="1.00"/>
<text transform="translate(38.80 292.70) scale(1.100 1)" font-size="10.00" text-anchor="middle" fill="#231f20">0</text>
<line x1="78.20" y1="276.30" x2="78.20" y2="279.30" stroke="#231f20" stroke-width="1.00"/>
<text transform="translate(78.20 292.70) scale(1.100 1)" font-size="10.00" text-anchor="middle" fill="#231f20">2</text>
<line x1="117.60" y1="276.30" x2="117.60" y2="279.30" stroke="#231f20" stroke-width="1.00"/>
<text transform="translate(117.60 292.70) scale(1.100 1)" font-size="10.00" text-anchor="middle" fill="#231f20">4</text>
<line x1="157.00" y1="276.30" x2="157.00" y2="279.30" stroke="#231f20" stroke-width="1.00"/>
<text transform="translate(157.00 292.70) scale(1.100 1)" font-size="10.00" text-anchor="middle" fill="#231f20">6</text>
<line x1="196.40" y1="276.30" x2="196.40" y2="279.30" stroke="#231f20" stroke-width="1.00"/>
<text transform="translate(196.40 292.70) scale(1.100 1)" font-size="10.00" text-anchor="middle" fill="#231f20">8</text>
<text x="0.50" y="173.20" font-size="15.00" text-anchor="start" fill="#000" font-weight="bold" >c</text>
<text transform="translate(118.20 307.80) scale(1.04 1)" font-size="10.50" text-anchor="middle" fill="#231f20"><tspan font-style="italic">T</tspan> (K)</text>
<text x="0" y="0" font-size="10.50" text-anchor="middle" fill="#231f20" transform="translate(8.70 226.00) rotate(-90) scale(1.020 1)"><tspan font-style="italic">R</tspan> (Ω)</text>
<text class="s" x="153.60" y="212.80" font-size="7.60" fill="#231f20"><tspan font-style="italic">μ</tspan><tspan font-size="5.32" dy="1.8">0</tspan><tspan font-style="italic" dy="-1.8">H</tspan><tspan font-size="5.32" dy="1.8">⊥</tspan><tspan dy="-1.8"> (T)</tspan></text>
<line x1="142.60" y1="224.40" x2="150.00" y2="224.40" stroke="#fde725" stroke-width="2.40"/>
<text x="152.80" y="227.00" font-size="7.60" text-anchor="start" fill="#231f20"  class="s">3.0</text>
<line x1="142.60" y1="234.60" x2="150.00" y2="234.60" stroke="#b5de2b" stroke-width="2.40"/>
<text x="152.80" y="237.20" font-size="7.60" text-anchor="start" fill="#231f20"  class="s">2.6</text>
<line x1="142.60" y1="244.80" x2="150.00" y2="244.80" stroke="#6ece58" stroke-width="2.40"/>
<text x="152.80" y="247.40" font-size="7.60" text-anchor="start" fill="#231f20"  class="s">2.3</text>
<line x1="142.60" y1="255.40" x2="150.00" y2="255.40" stroke="#35b779" stroke-width="2.40"/>
<text x="152.80" y="258.00" font-size="7.60" text-anchor="start" fill="#231f20"  class="s">2.0</text>
<line x1="142.60" y1="265.90" x2="150.00" y2="265.90" stroke="#1f9e89" stroke-width="2.40"/>
<text x="152.80" y="268.50" font-size="7.60" text-anchor="start" fill="#231f20"  class="s">1.7</text>
<line x1="169.60" y1="224.40" x2="177.00" y2="224.40" stroke="#26828e" stroke-width="2.40"/>
<text x="179.80" y="227.00" font-size="7.60" text-anchor="start" fill="#231f20"  class="s">1.3</text>
<line x1="169.60" y1="234.60" x2="177.00" y2="234.60" stroke="#31688e" stroke-width="2.40"/>
<text x="179.80" y="237.20" font-size="7.60" text-anchor="start" fill="#231f20"  class="s">1.0</text>
<line x1="169.60" y1="244.80" x2="177.00" y2="244.80" stroke="#3e4989" stroke-width="2.40"/>
<text x="179.80" y="247.40" font-size="7.60" text-anchor="start" fill="#231f20"  class="s">0.7</text>
<line x1="169.60" y1="255.40" x2="177.00" y2="255.40" stroke="#482878" stroke-width="2.40"/>
<text x="179.80" y="258.00" font-size="7.60" text-anchor="start" fill="#231f20"  class="s">0.3</text>
<line x1="169.60" y1="265.90" x2="177.00" y2="265.90" stroke="#440154" stroke-width="2.40"/>
<text x="179.80" y="268.50" font-size="7.60" text-anchor="start" fill="#231f20"  class="s">0.0</text>
<path d="M257.50 273.30 C258.87 272.70 260.36 272.50 261.60 271.50 C263.13 270.27 264.49 268.31 265.60 266.00 C267.10 262.89 267.90 258.01 268.90 254.10 C269.86 250.35 270.67 247.16 271.50 243.00 C272.55 237.74 273.53 230.62 274.50 225.00 C275.36 220.04 276.09 215.26 277.00 211.00 C277.78 207.37 278.44 203.92 279.50 201.00 C280.38 198.58 281.22 196.26 282.60 194.60 C283.83 193.13 285.37 192.20 287.10 191.30 C289.05 190.28 291.34 189.57 293.80 189.00 C296.66 188.34 300.13 188.20 303.30 187.80" fill="none" stroke="#ad1440" stroke-width="2.60" stroke-linecap="round" stroke-linejoin="round" />
<path d="M270.00 273.40 C280.00 273.33 294.66 273.68 300.00 273.20 C301.96 273.02 302.65 272.94 304.00 272.50 C305.52 272.00 307.28 271.26 308.60 270.20 C309.96 269.11 310.92 267.52 312.00 266.00 C313.16 264.37 314.43 262.70 315.30 260.70 C316.29 258.44 316.78 255.81 317.40 253.00 C318.14 249.68 318.68 246.01 319.30 242.00 C320.05 237.17 320.75 231.33 321.50 226.00 C322.25 220.67 322.97 214.82 323.80 210.00 C324.49 205.98 325.06 202.08 326.00 199.00 C326.71 196.66 327.48 194.45 328.50 193.00 C329.24 191.95 329.99 191.46 331.00 190.70 C332.28 189.73 334.02 188.42 335.70 187.80 C337.36 187.19 338.91 187.22 341.00 187.00 C344.00 186.68 348.33 186.53 352.00 186.30" fill="none" stroke="#e26a45" stroke-width="2.20" stroke-linecap="round" stroke-linejoin="round" />
<path d="M300.00 273.40 C305.00 273.33 311.43 274.21 315.00 273.20 C317.22 272.57 318.61 271.70 320.00 270.20 C321.67 268.39 322.84 265.19 323.80 262.60 C324.72 260.12 325.11 257.78 325.70 255.00 C326.40 251.68 326.99 248.02 327.60 244.00 C328.33 239.17 328.97 233.33 329.70 228.00 C330.43 222.66 331.13 216.94 332.00 212.00 C332.76 207.70 333.49 203.27 334.50 200.00 C335.24 197.62 336.06 195.51 337.00 194.00 C337.68 192.92 338.32 192.33 339.20 191.50 C340.26 190.50 341.61 189.18 343.00 188.50 C344.35 187.84 345.60 187.71 347.40 187.40 C350.16 186.93 354.47 186.73 358.00 186.40" fill="none" stroke="#f08a55" stroke-width="2.20" stroke-linecap="round" stroke-linejoin="round" />
<path d="M310.00 273.50 C316.00 273.43 323.83 274.15 328.00 273.30 C330.35 272.82 331.78 272.46 333.30 271.10 C335.28 269.33 336.87 265.42 338.00 262.60 C339.02 260.06 339.38 257.78 340.00 255.00 C340.74 251.68 341.36 248.02 342.00 244.00 C342.77 239.17 343.45 233.25 344.20 228.00 C344.92 222.92 345.58 217.60 346.40 213.00 C347.10 209.04 347.90 205.24 348.70 202.00 C349.34 199.39 349.84 196.88 350.70 195.00 C351.35 193.57 352.04 192.64 353.00 191.50 C354.13 190.17 355.29 188.49 357.20 187.60 C359.83 186.38 364.40 186.73 368.00 186.30" fill="none" stroke="#f9b36e" stroke-width="2.20" stroke-linecap="round" stroke-linejoin="round" />
<path d="M320.00 273.60 C326.67 273.53 335.72 274.41 340.00 273.40 C342.19 272.88 343.31 272.42 344.70 271.10 C346.59 269.30 348.29 265.43 349.40 262.60 C350.40 260.06 350.71 257.78 351.30 255.00 C352.00 251.68 352.60 248.02 353.20 244.00 C353.92 239.17 354.52 233.25 355.20 228.00 C355.86 222.92 356.47 217.61 357.20 213.00 C357.82 209.04 358.42 205.24 359.20 202.00 C359.83 199.38 360.38 196.95 361.30 195.00 C362.05 193.41 363.03 192.25 364.00 191.00 C364.94 189.79 365.48 188.41 367.00 187.60 C369.38 186.34 374.33 186.67 378.00 186.20" fill="none" stroke="#fcd797" stroke-width="2.20" stroke-linecap="round" stroke-linejoin="round" />
<path d="M330.00 273.60 C336.67 273.53 346.02 275.30 350.00 273.40 C352.29 272.31 353.06 270.28 354.20 268.30 C355.46 266.11 356.17 263.06 357.00 260.70 C357.71 258.67 358.36 257.24 358.90 255.00 C359.64 251.96 360.06 248.02 360.60 244.00 C361.24 239.17 361.82 233.25 362.40 228.00 C362.96 222.92 363.41 217.72 364.00 213.00 C364.52 208.77 365.01 204.45 365.70 201.00 C366.23 198.34 366.57 195.93 367.50 194.00 C368.27 192.39 369.27 191.17 370.50 190.00 C371.81 188.75 373.28 187.49 375.20 186.80 C377.59 185.94 381.07 186.27 384.00 186.00" fill="none" stroke="#f6ecb6" stroke-width="2.20" stroke-linecap="round" stroke-linejoin="round" />
<path d="M340.00 273.60 C349.33 273.50 363.27 274.22 368.00 273.30 C369.68 272.97 370.27 272.94 371.30 272.00 C373.07 270.38 374.88 265.63 376.00 262.60 C376.97 259.99 377.40 257.98 377.90 255.00 C378.59 250.86 378.80 245.23 379.20 240.00 C379.64 234.28 379.99 227.62 380.40 222.00 C380.76 217.04 381.02 212.82 381.50 208.00 C382.01 202.84 382.32 195.49 383.40 192.00 C383.97 190.15 384.59 188.97 385.50 188.00 C386.28 187.17 387.11 186.68 388.30 186.30 C390.01 185.75 392.77 185.97 395.00 185.80" fill="none" stroke="#d5ebf0" stroke-width="2.20" stroke-linecap="round" stroke-linejoin="round" />
<path d="M345.00 273.60 C355.00 273.50 369.91 275.81 375.00 273.30 C377.34 272.14 377.85 270.35 378.90 268.30 C380.22 265.74 381.01 261.93 381.70 258.80 C382.35 255.83 382.60 253.33 383.00 250.00 C383.52 245.67 383.97 240.00 384.40 235.00 C384.83 230.00 385.21 224.97 385.60 220.00 C385.98 215.10 386.25 209.85 386.70 205.40 C387.08 201.64 387.38 197.82 388.00 195.00 C388.44 193.01 388.80 191.41 389.60 190.00 C390.32 188.73 391.10 187.51 392.40 186.80 C394.03 185.91 396.80 186.13 399.00 185.80" fill="none" stroke="#a5cde3" stroke-width="2.20" stroke-linecap="round" stroke-linejoin="round" />
<path d="M352.00 273.30 C360.90 273.00 374.15 273.70 378.70 272.40 C380.42 271.91 381.09 271.38 382.00 270.50 C382.98 269.55 383.62 268.33 384.30 266.80 C385.24 264.69 385.96 261.73 386.60 258.80 C387.35 255.36 387.70 251.20 388.30 247.40 C388.90 243.60 389.61 239.77 390.20 236.00 C390.78 232.30 391.32 228.58 391.80 225.00 C392.25 221.59 392.63 218.34 393.00 215.00 C393.37 211.67 393.64 208.41 394.00 205.00 C394.37 201.42 394.68 197.02 395.20 194.00 C395.57 191.84 395.83 189.75 396.50 188.50 C396.93 187.69 397.42 187.21 398.10 186.80 C398.87 186.33 399.97 186.17 401.00 186.00 C402.13 185.82 403.40 185.87 404.60 185.80" fill="none" stroke="#2b3a98" stroke-width="2.60" stroke-linecap="round" stroke-linejoin="round" />
<rect x="265.10" y="246.46" width="12.04" height="7.18" fill="#fff"/>
<text x="265.90" y="252.70" font-size="7.80" text-anchor="start" fill="#cc5c78" stroke="#cc5c78" stroke-width="0.15">4.4</text>
<rect x="312.80" y="245.96" width="12.04" height="7.18" fill="#fff"/>
<text x="313.60" y="252.20" font-size="7.80" text-anchor="start" fill="#e58d74" stroke="#e58d74" stroke-width="0.15">3.7</text>
<rect x="320.20" y="257.96" width="12.04" height="7.18" fill="#fff"/>
<text x="321.00" y="264.20" font-size="7.80" text-anchor="start" fill="#eda183" stroke="#eda183" stroke-width="0.15">3.5</text>
<rect x="336.50" y="246.46" width="12.04" height="7.18" fill="#fff"/>
<text x="337.30" y="252.70" font-size="7.80" text-anchor="start" fill="#dcbb9c" stroke="#dcbb9c" stroke-width="0.15">3.2</text>
<rect x="354.40" y="246.46" width="12.04" height="7.18" fill="#fff"/>
<text x="355.20" y="252.70" font-size="7.80" text-anchor="start" fill="#c6bebc" stroke="#c6bebc" stroke-width="0.15">2.7</text>
<rect x="346.20" y="257.56" width="12.04" height="7.18" fill="#fff"/>
<text x="347.00" y="263.80" font-size="7.80" text-anchor="start" fill="#bdbcc6" stroke="#bdbcc6" stroke-width="0.15">2.9</text>
<rect x="366.00" y="257.56" width="12.04" height="7.18" fill="#fff"/>
<text x="366.80" y="263.80" font-size="7.80" text-anchor="start" fill="#b6bfcf" stroke="#b6bfcf" stroke-width="0.15">2.2</text>
<rect x="376.80" y="246.06" width="12.04" height="7.18" fill="#fff"/>
<text x="377.60" y="252.30" font-size="7.80" text-anchor="start" fill="#b3c3d6" stroke="#b3c3d6" stroke-width="0.15">1.8</text>
<rect x="377.90" y="233.76" width="23.75" height="7.18" fill="#fff"/>
<text x="378.70" y="240.00" font-size="7.80" text-anchor="start" fill="#3e419e" stroke="#3e419e" stroke-width="0.15">0.69 K</text>
<path d="M252.20 173.60 L252.20 276.30 L410.60 276.30 L410.60 173.60" fill="none" stroke="#231f20" stroke-width="1"/>
<line x1="251.70" y1="173.60" x2="302.30" y2="173.60" stroke="#231f20" stroke-width="1.00"/>
<line x1="355.20" y1="173.60" x2="411.10" y2="173.60" stroke="#231f20" stroke-width="1.00"/>
<text x="305.20" y="176.80" font-size="10.80" text-anchor="start" fill="#231f20">2L NbSe<tspan font-size="7.56" dy="3.0">2</tspan></text>
<line x1="249.20" y1="273.20" x2="252.20" y2="273.20" stroke="#231f20" stroke-width="1.00"/>
<text transform="translate(244.60 277.60) scale(1.100 1)" font-size="10.00" text-anchor="end" fill="#231f20">0</text>
<line x1="249.20" y1="249.80" x2="252.20" y2="249.80" stroke="#231f20" stroke-width="1.00"/>
<text transform="translate(244.60 254.20) scale(1.100 1)" font-size="10.00" text-anchor="end" fill="#231f20">20</text>
<line x1="249.20" y1="226.40" x2="252.20" y2="226.40" stroke="#231f20" stroke-width="1.00"/>
<text transform="translate(244.60 230.80) scale(1.100 1)" font-size="10.00" text-anchor="end" fill="#231f20">40</text>
<line x1="249.20" y1="203.00" x2="252.20" y2="203.00" stroke="#231f20" stroke-width="1.00"/>
<text transform="translate(244.60 207.40) scale(1.100 1)" font-size="10.00" text-anchor="end" fill="#231f20">60</text>
<line x1="249.20" y1="179.60" x2="252.20" y2="179.60" stroke="#231f20" stroke-width="1.00"/>
<text transform="translate(244.60 184.00) scale(1.100 1)" font-size="10.00" text-anchor="end" fill="#231f20">80</text>
<line x1="271.00" y1="276.30" x2="271.00" y2="279.30" stroke="#231f20" stroke-width="1.00"/>
<text transform="translate(271.00 292.70) scale(1.100 1)" font-size="10.00" text-anchor="middle" fill="#231f20">10</text>
<line x1="302.52" y1="276.30" x2="302.52" y2="279.30" stroke="#231f20" stroke-width="1.00"/>
<text transform="translate(302.52 292.70) scale(1.100 1)" font-size="10.00" text-anchor="middle" fill="#231f20">15</text>
<line x1="334.05" y1="276.30" x2="334.05" y2="279.30" stroke="#231f20" stroke-width="1.00"/>
<text transform="translate(334.05 292.70) scale(1.100 1)" font-size="10.00" text-anchor="middle" fill="#231f20">20</text>
<line x1="365.57" y1="276.30" x2="365.57" y2="279.30" stroke="#231f20" stroke-width="1.00"/>
<text transform="translate(365.57 292.70) scale(1.100 1)" font-size="10.00" text-anchor="middle" fill="#231f20">25</text>
<line x1="397.10" y1="276.30" x2="397.10" y2="279.30" stroke="#231f20" stroke-width="1.00"/>
<text transform="translate(397.10 292.70) scale(1.100 1)" font-size="10.00" text-anchor="middle" fill="#231f20">30</text>
<text x="214.30" y="173.20" font-size="15.00" text-anchor="start" fill="#000" font-weight="bold" >d</text>
<text transform="translate(331.40 309.00) scale(1.06 1)" font-size="10.50" text-anchor="middle" fill="#231f20"><tspan font-style="italic">μ</tspan><tspan font-size="7.6" dy="2">0</tspan><tspan font-style="italic" dy="-2">H</tspan><tspan font-size="6.6" dy="2" fill="#555" stroke="none">||</tspan><tspan dy="-2"> (T)</tspan></text>
<text x="0" y="0" font-size="10.50" text-anchor="middle" fill="#231f20" transform="translate(222.40 226.00) rotate(-90) scale(1.020 1)"><tspan font-style="italic">R</tspan> (Ω)</text>
<path d="M472.60 13.60 L472.60 265.40 L683.40 265.40 L683.40 13.60" fill="none" stroke="#231f20" stroke-width="1"/>
<line x1="472.10" y1="13.60" x2="683.90" y2="13.60" stroke="#231f20" stroke-width="1.00"/>
<line x1="469.60" y1="262.90" x2="472.60" y2="262.90" stroke="#231f20" stroke-width="1.00"/>
<text transform="translate(465.00 267.30) scale(1.100 1)" font-size="10.00" text-anchor="end" fill="#231f20">0</text>
<line x1="469.60" y1="221.63" x2="472.60" y2="221.63" stroke="#231f20" stroke-width="1.00"/>
<text transform="translate(465.00 226.03) scale(1.100 1)" font-size="10.00" text-anchor="end" fill="#231f20">5</text>
<line x1="469.60" y1="180.37" x2="472.60" y2="180.37" stroke="#231f20" stroke-width="1.00"/>
<text transform="translate(465.00 184.77) scale(1.100 1)" font-size="10.00" text-anchor="end" fill="#231f20">10</text>
<line x1="469.60" y1="139.10" x2="472.60" y2="139.10" stroke="#231f20" stroke-width="1.00"/>
<text transform="translate(465.00 143.50) scale(1.100 1)" font-size="10.00" text-anchor="end" fill="#231f20">15</text>
<line x1="469.60" y1="97.84" x2="472.60" y2="97.84" stroke="#231f20" stroke-width="1.00"/>
<text transform="translate(465.00 102.24) scale(1.100 1)" font-size="10.00" text-anchor="end" fill="#231f20">20</text>
<line x1="469.60" y1="56.57" x2="472.60" y2="56.57" stroke="#231f20" stroke-width="1.00"/>
<text transform="translate(465.00 60.97) scale(1.100 1)" font-size="10.00" text-anchor="end" fill="#231f20">25</text>
<line x1="469.60" y1="15.31" x2="472.60" y2="15.31" stroke="#231f20" stroke-width="1.00"/>
<text transform="translate(465.00 19.71) scale(1.100 1)" font-size="10.00" text-anchor="end" fill="#231f20">30</text>
<line x1="472.60" y1="265.40" x2="472.60" y2="268.40" stroke="#231f20" stroke-width="1.00"/>
<text transform="translate(472.60 281.80) scale(1.100 1)" font-size="10.00" text-anchor="middle" fill="#231f20">0</text>
<line x1="513.20" y1="265.40" x2="513.20" y2="268.40" stroke="#231f20" stroke-width="1.00"/>
<text transform="translate(513.20 281.80) scale(1.100 1)" font-size="10.00" text-anchor="middle" fill="#231f20">1</text>
<line x1="553.80" y1="265.40" x2="553.80" y2="268.40" stroke="#231f20" stroke-width="1.00"/>
<text transform="translate(553.80 281.80) scale(1.100 1)" font-size="10.00" text-anchor="middle" fill="#231f20">2</text>
<line x1="594.40" y1="265.40" x2="594.40" y2="268.40" stroke="#231f20" stroke-width="1.00"/>
<text transform="translate(594.40 281.80) scale(1.100 1)" font-size="10.00" text-anchor="middle" fill="#231f20">3</text>
<line x1="635.00" y1="265.40" x2="635.00" y2="268.40" stroke="#231f20" stroke-width="1.00"/>
<text transform="translate(635.00 281.80) scale(1.100 1)" font-size="10.00" text-anchor="middle" fill="#231f20">4</text>
<line x1="675.60" y1="265.40" x2="675.60" y2="268.40" stroke="#231f20" stroke-width="1.00"/>
<text transform="translate(675.60 281.80) scale(1.100 1)" font-size="10.00" text-anchor="middle" fill="#231f20">5</text>
<text x="432.60" y="11.90" font-size="15.00" text-anchor="start" fill="#000" font-weight="bold" >e</text>
<text transform="translate(578.80 299.20) scale(1.04 1)" font-size="10.50" text-anchor="middle" fill="#231f20"><tspan font-style="italic">T</tspan> (K)</text>
<text x="0" y="0" font-size="10.50" text-anchor="middle" fill="#231f20" transform="translate(445.20 141.50) rotate(-90) scale(1.150 1)"><tspan font-style="italic">μ</tspan><tspan font-size="7.4" dy="2">0</tspan><tspan font-style="italic" dy="-2">H</tspan><tspan font-size="7.4" dy="2">c2</tspan><tspan dy="-2" dx="1.6"> (T)</tspan></text>
<path d="M545 56.6 L573.7 56.6 L553.3 73.8 L523.9 73.8 Z" fill="#c8c8c8"/>
<path d="M533 63 L554 63" stroke="#d4242a" stroke-width="2.3"/>
<path d="M552.6 58.8 L562.6 63 L552.6 67.2 Z" fill="#d4242a"/>
<text x="523.6" y="55.4" font-size="10.5" font-style="italic" fill="#231f20">H<tspan font-size="5.6" font-style="normal" dy="2.4" fill="#8a8a8a" stroke="none">||</tspan></text>
<path d="M495.2 228.3 L526.8 228.3 L506.7 245 L477.2 245 Z" fill="#c8c8c8"/>
<path d="M502.4 237.6 L502.4 224" stroke="#d4242a" stroke-width="2.5"/>
<path d="M498 225.6 L502.4 217.4 L506.8 225.6 Z" fill="#d4242a"/>
<text x="506.4" y="217.8" font-size="10.5" font-style="italic" fill="#231f20">H<tspan font-size="6.6" font-style="normal" dy="2.2" fill="#555" stroke="none">⊥</tspan></text>
<path d="M543.00 244.00 L547.60 248.60 M543.00 248.60 L547.60 244.00" stroke="#2f9a2f" stroke-width="2.1" fill="none"/>
<path d="M567.50 247.10 L572.10 251.70 M567.50 251.70 L572.10 247.10" stroke="#2f9a2f" stroke-width="2.1" fill="none"/>
<path d="M588.90 249.90 L593.50 254.50 M588.90 254.50 L593.50 249.90" stroke="#2f9a2f" stroke-width="2.1" fill="none"/>
<path d="M609.50 252.30 L614.10 256.90 M609.50 256.90 L614.10 252.30" stroke="#2f9a2f" stroke-width="2.1" fill="none"/>
<path d="M630.90 255.10 L635.50 259.70 M630.90 259.70 L635.50 255.10" stroke="#2f9a2f" stroke-width="2.1" fill="none"/>
<path d="M652.10 258.00 L656.70 262.60 M652.10 262.60 L656.70 258.00" stroke="#2f9a2f" stroke-width="2.1" fill="none"/>
<path d="M672.20 260.40 L676.80 265.00 M672.20 265.00 L676.80 260.40" stroke="#2f9a2f" stroke-width="2.1" fill="none"/>
<path d="M674.80 260.40 L679.40 265.00 M674.80 265.00 L679.40 260.40" stroke="#2f9a2f" stroke-width="2.1" fill="none"/>
<path d="M504.60 259.00 H510.40 M507.50 256.10 V261.90" stroke="#2a7ab9" stroke-width="1.9" fill="none"/>
<path d="M514.20 259.80 H520.00 M517.10 256.90 V262.70" stroke="#2a7ab9" stroke-width="1.9" fill="none"/>
<path d="M524.50 260.70 H530.30 M527.40 257.80 V263.60" stroke="#2a7ab9" stroke-width="1.9" fill="none"/>
<path d="M537.70 261.30 H543.50 M540.60 258.40 V264.20" stroke="#2a7ab9" stroke-width="1.9" fill="none"/>
<path d="M550.90 262.00 H556.70 M553.80 259.10 V264.90" stroke="#2a7ab9" stroke-width="1.9" fill="none"/>
<path d="M560.30 262.60 H566.10 M563.20 259.70 V265.50" stroke="#2a7ab9" stroke-width="1.9" fill="none"/>
<path d="M563.40 204.20 L566.40 209.60 L560.40 209.60 Z" fill="#2a7ab9"/>
<path d="M566.90 242.90 L569.90 248.30 L563.90 248.30 Z" fill="#2a7ab9"/>
<path d="M567.30 259.10 L570.30 264.50 L564.30 264.50 Z" fill="#2a7ab9"/>
<path d="M568.90 259.30 L571.90 264.70 L565.90 264.70 Z" fill="#2a7ab9"/>
<path d="M485.10 48.90 L488.70 52.50 L485.10 56.10 L481.50 52.50 Z" fill="#2a7ab9"/>
<path d="M487.90 50.30 L491.50 53.90 L487.90 57.50 L484.30 53.90 Z" fill="#2a7ab9"/>
<path d="M495.30 53.60 L498.90 57.20 L495.30 60.80 L491.70 57.20 Z" fill="#2a7ab9"/>
<path d="M498.00 61.80 L501.60 65.40 L498.00 69.00 L494.40 65.40 Z" fill="#2a7ab9"/>
<path d="M502.50 64.00 L506.10 67.60 L502.50 71.20 L498.90 67.60 Z" fill="#2a7ab9"/>
<path d="M511.30 68.70 L514.90 72.30 L511.30 75.90 L507.70 72.30 Z" fill="#2a7ab9"/>
<path d="M519.50 75.90 L523.10 79.50 L519.50 83.10 L515.90 79.50 Z" fill="#2a7ab9"/>
<path d="M525.80 87.40 L529.40 91.00 L525.80 94.60 L522.20 91.00 Z" fill="#2a7ab9"/>
<path d="M536.70 107.40 L540.30 111.00 L536.70 114.60 L533.10 111.00 Z" fill="#2a7ab9"/>
<path d="M544.10 121.10 L547.70 124.70 L544.10 128.30 L540.50 124.70 Z" fill="#2a7ab9"/>
<path d="M549.80 135.50 L553.40 139.10 L549.80 142.70 L546.20 139.10 Z" fill="#2a7ab9"/>
<path d="M558.00 161.70 L561.60 165.30 L558.00 168.90 L554.40 165.30 Z" fill="#2a7ab9"/>
<path d="M563.40 187.40 L567.00 191.00 L563.40 194.60 L559.80 191.00 Z" fill="#2a7ab9"/>
<path d="M566.90 225.00 L570.50 228.60 L566.90 232.20 L563.30 228.60 Z" fill="#2a7ab9"/>
<path d="M568.70 227.80 L572.30 231.40 L568.70 235.00 L565.10 231.40 Z" fill="#2a7ab9"/>
<path d="M500.30 22.40 L503.34 24.61 L502.18 28.19 L498.42 28.19 L497.26 24.61 Z" fill="#2f9a2f"/>
<path d="M509.90 22.40 L512.94 24.61 L511.78 28.19 L508.02 28.19 L506.86 24.61 Z" fill="#2f9a2f"/>
<path d="M528.30 24.60 L531.34 26.81 L530.18 30.39 L526.42 30.39 L525.26 26.81 Z" fill="#2f9a2f"/>
<path d="M546.20 30.60 L549.24 32.81 L548.08 36.39 L544.32 36.39 L543.16 32.81 Z" fill="#2f9a2f"/>
<path d="M553.90 34.20 L556.94 36.41 L555.78 39.99 L552.02 39.99 L550.86 36.41 Z" fill="#2f9a2f"/>
<path d="M562.70 39.10 L565.74 41.31 L564.58 44.89 L560.82 44.89 L559.66 41.31 Z" fill="#2f9a2f"/>
<path d="M583.00 56.60 L586.04 58.81 L584.88 62.39 L581.12 62.39 L579.96 58.81 Z" fill="#2f9a2f"/>
<path d="M589.40 64.90 L592.44 67.11 L591.28 70.69 L587.52 70.69 L586.36 67.11 Z" fill="#2f9a2f"/>
<path d="M597.40 73.20 L600.44 75.41 L599.28 78.99 L595.52 78.99 L594.36 75.41 Z" fill="#2f9a2f"/>
<path d="M603.80 80.90 L606.84 83.11 L605.68 86.69 L601.92 86.69 L600.76 83.11 Z" fill="#2f9a2f"/>
<path d="M615.30 98.20 L618.34 100.41 L617.18 103.99 L613.42 103.99 L612.26 100.41 Z" fill="#2f9a2f"/>
<path d="M623.30 111.30 L626.34 113.51 L625.18 117.09 L621.42 117.09 L620.26 113.51 Z" fill="#2f9a2f"/>
<path d="M652.20 172.30 L655.24 174.51 L654.08 178.09 L650.32 178.09 L649.16 174.51 Z" fill="#2f9a2f"/>
<path d="M626.50 111.50 L628.73 115.10 L626.50 118.70 L624.27 115.10 Z" fill="#2f9a2f"/>
<path d="M639.70 135.60 L641.93 139.20 L639.70 142.80 L637.47 139.20 Z" fill="#2f9a2f"/>
<path d="M650.70 160.70 L652.93 164.30 L650.70 167.90 L648.47 164.30 Z" fill="#2f9a2f"/>
<path d="M659.70 185.50 L661.93 189.10 L659.70 192.70 L657.47 189.10 Z" fill="#2f9a2f"/>
<path d="M671.80 234.70 L674.03 238.30 L671.80 241.90 L669.57 238.30 Z" fill="#2f9a2f"/>
<path d="M626.40 20.50 L629.80 23.90 L626.40 27.30 L623.00 23.90 Z" fill="#2a7ab9"/>
<path d="M632.30 21.11 L635.20 26.33 L629.40 26.33 Z" fill="#2a7ab9"/>
<path d="M635.60 23.90 H640.80 M638.20 21.30 V26.50" stroke="#2a7ab9" stroke-width="1.9" fill="none"/>
<path d="M626.40 33.40 L629.25 35.47 L628.16 38.83 L624.64 38.83 L623.55 35.47 Z" fill="#2f9a2f"/>
<path d="M632.60 33.00 L634.64 36.40 L632.60 39.80 L630.56 36.40 Z" fill="#2f9a2f"/>
<path d="M636.10 34.30 L640.30 38.50 M636.10 38.50 L640.30 34.30" stroke="#2f9a2f" stroke-width="2.1" fill="none"/>
<text class="s" x="645.2" y="26.8" font-size="7.8" fill="#231f20">3L TaS<tspan font-size="5.6" dy="1.8">2</tspan></text>
<text class="s" x="645.2" y="39.3" font-size="7.8" fill="#231f20">2L NbSe<tspan font-size="5.6" dy="1.8">2</tspan></text>
</svg>
</body></html>
